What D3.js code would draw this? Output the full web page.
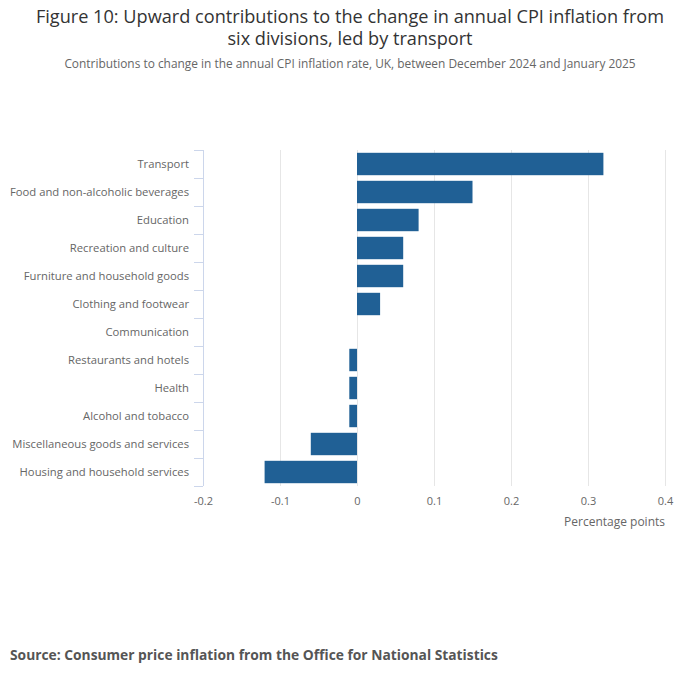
<!DOCTYPE html>
<html>
<head>
<meta charset="utf-8">
<script src="https://cdn.jsdelivr.net/npm/d3@7"></script>
<style>
  body { margin: 0; background: #fff; }
  svg { font-family: "Open Sans", sans-serif; display: block; }
</style>
</head>
<body>
<svg></svg>
<script>
// categories top to bottom, values in percentage points
const categories = [
    "Transport",
    "Food and non-alcoholic beverages",
    "Education",
    "Recreation and culture",
    "Furniture and household goods",
    "Clothing and footwear",
    "Communication",
    "Restaurants and hotels",
    "Health",
    "Alcohol and tobacco",
    "Miscellaneous goods and services",
    "Housing and household services"
];
const contributions = [0.32, 0.15, 0.08, 0.06, 0.06, 0.03, 0, -0.01, -0.01, -0.01, -0.06, -0.12];
const xTicks = [-0.2, -0.1, 0, 0.1, 0.2, 0.3, 0.4];

const data = categories.map((c, i) => ({name: c, value: contributions[i]}));

const svgW = 700, svgH = 682;
const plotLeft = 203, plotRight = 665, plotTop = 150, plotBottom = 486;

const svg = d3.select("svg")
    .attr("width", svgW)
    .attr("height", svgH)
;

// ---- titles ----
svg.append("text")
    .attr("x", 350).attr("y", 23)
    .attr("text-anchor", "middle")
    .attr("font-size", 18.15).attr("fill", "#333")
    .text("Figure 10: Upward contributions to the change in annual CPI inflation from");
svg.append("text")
    .attr("x", 350).attr("y", 45)
    .attr("text-anchor", "middle")
    .attr("font-size", 18.15).attr("fill", "#333")
    .text("six divisions, led by transport");
svg.append("text")
    .attr("x", 350).attr("y", 68)
    .attr("text-anchor", "middle")
    .attr("font-size", 11.9).attr("fill", "#666")
    .text("Contributions to change in the annual CPI inflation rate, UK, between December 2024 and January 2025");

// ---- scales ----
const xScale = d3.scaleLinear()
    .domain([-0.2, 0.4])
    .range([plotLeft, plotRight]);

const yScale = d3.scaleBand()
    .domain(categories)
    .range([plotTop, plotBottom])
    .paddingInner(0.2)
    .paddingOuter(0.1);

// gridlines
svg.append("g")
    .selectAll("line")
    .data(xTicks.slice(1))
    .enter()
    .append("line")
    .attr("x1", d => Math.round(xScale(d)) + 0.5).attr("x2", d => Math.round(xScale(d)) + 0.5)
    .attr("y1", plotTop).attr("y2", plotBottom)
    .attr("stroke", "#e6e6e6")
    .attr("stroke-width", 1);

// x axis labels (no line)
const xAxis = d3.axisBottom(xScale)
    .tickValues(xTicks)
    .tickFormat(d => d === 0 ? "0" : String(+d.toFixed(1)))
    .tickSize(0)
    .tickPadding(11);

const xg = svg.append("g")
    .attr("transform", `translate(0,${plotBottom})`)
    .call(xAxis);
xg.select(".domain").remove();
xg.selectAll("text")
    .attr("font-family", "Open Sans, sans-serif")
    .attr("font-size", 11)
    .attr("fill", "#666");

// y axis
const yAxis = d3.axisLeft(yScale).tickSize(0).tickPadding(14);
const yg = svg.append("g")
    .attr("transform", `translate(${plotLeft},0)`)
    .call(yAxis);
yg.select(".domain").remove();
yg.selectAll("text")
    .attr("font-family", "Open Sans, sans-serif")
    .attr("font-size", 11.25)
    .attr("fill", "#666");

// category boundary ticks and axis line
const boundaries = d3.range(categories.length + 1).map(i => plotTop + i * (plotBottom - plotTop) / categories.length);
svg.append("line")
    .attr("x1", plotLeft + 0.5).attr("x2", plotLeft + 0.5)
    .attr("y1", plotTop).attr("y2", plotBottom)
    .attr("stroke", "#ccd6eb");
svg.append("g")
    .selectAll("line")
    .data(boundaries)
    .enter()
    .append("line")
    .attr("x1", plotLeft - 9).attr("x2", plotLeft)
    .attr("y1", d => d + 0.5).attr("y2", d => d + 0.5)
    .attr("stroke", "#ccd6eb");

// bars
svg.append("g")
    .selectAll("rect")
    .data(data)
    .enter()
    .append("rect")
    .attr("x", d => xScale(Math.min(0, d.value)))
    .attr("y", d => yScale(d.name))
    .attr("width", d => Math.abs(xScale(d.value) - xScale(0)))
    .attr("height", yScale.bandwidth())
    .attr("fill", "#206095");

// axis title
svg.append("text")
    .attr("x", plotRight).attr("y", 526)
    .attr("text-anchor", "end")
    .attr("font-size", 12).attr("fill", "#666")
    .text("Percentage points");

// source
svg.append("text")
    .attr("x", 10).attr("y", 660)
    .attr("font-size", 13.8).attr("font-weight", "bold").attr("fill", "#555")
    .text("Source: Consumer price inflation from the Office for National Statistics");
</script>
</body>
</html>
